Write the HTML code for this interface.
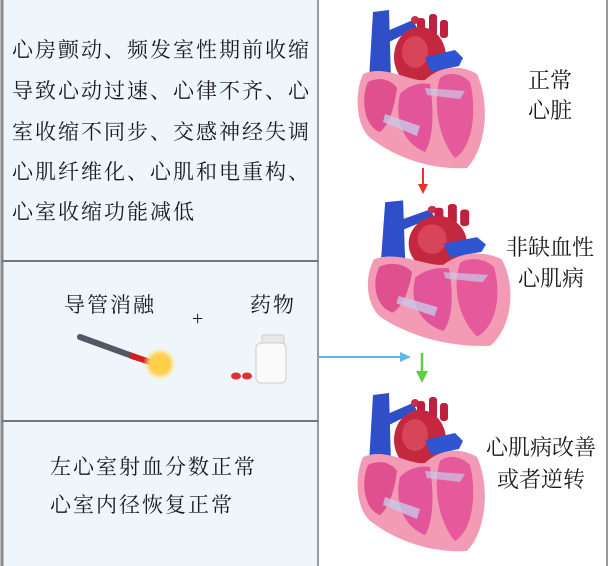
<!DOCTYPE html>
<html><head><meta charset="utf-8"><style>
body{margin:0;width:610px;height:566px;background:#fff;overflow:hidden;position:relative;font-family:"Liberation Sans","Noto Sans CJK SC",sans-serif;}
.t{position:absolute;font-size:21px;color:#1a1a1a;white-space:nowrap;line-height:1;letter-spacing:2px;font-family:"Liberation Serif","Noto Serif CJK SC",serif;}
.r{letter-spacing:0;font-size:22px;}
</style></head><body>
<svg width="610" height="566" style="position:absolute;left:0;top:0">
<defs>
<g id="h">
 <path d="M18 10 L34 8 L36 78 L14 78 Z" fill="#2f4fc8"/>
 <path d="M30 30 L58 18 L62 26 L34 40 Z" fill="#2f4fc8"/>
 <circle cx="60" cy="18" r="4" fill="#c8304a"/>
 <rect x="62" y="16" width="8" height="20" rx="3" fill="#c02040"/>
 <rect x="74" y="12" width="8" height="22" rx="3" fill="#c02040"/>
 <rect x="85" y="18" width="8" height="18" rx="3" fill="#c02040"/>
 <ellipse cx="65" cy="55" rx="26" ry="30" fill="#c4283f"/>
 <ellipse cx="60" cy="50" rx="13" ry="16" fill="#d8455a"/>
 <path d="M70 55 L100 48 L108 56 L104 64 L76 70 Z" fill="#2f56d0"/>
 <path d="M8 72 C-2 95 2 128 18 138 C45 158 80 168 112 166 C132 145 135 100 122 72 C105 62 85 64 70 78 C55 80 30 62 8 72 Z" fill="#f39bb4"/>
 <path d="M13 80 C6 95 8 124 25 130 C35 122 40 102 42 86 C35 76 22 75 13 80 Z" fill="#e0508f"/>
 <path d="M45 92 C40 112 45 140 70 150 C80 134 78 102 75 82 C65 80 52 84 45 92 Z" fill="#e2559a"/>
 <path d="M85 76 C78 98 82 135 100 156 C118 145 122 108 115 80 C105 70 92 70 85 76 Z" fill="#e65a9c"/>
 <path d="M30 112 L65 124 L62 134 L28 120 Z" fill="#c9c8e8" opacity=".8"/>
 <path d="M70 86 L110 89 L105 97 L72 93 Z" fill="#c9c8e8" opacity=".7"/>
</g>
</defs>
<rect x="0" y="0" width="319" height="566" fill="#eef6fc"/>
<line x1="2" y1="0" x2="2" y2="566" stroke="#888" stroke-width="3"/>
<line x1="318" y1="0" x2="318" y2="566" stroke="#999" stroke-width="2"/>
<line x1="607" y1="0" x2="607" y2="566" stroke="#999" stroke-width="2"/>
<line x1="2" y1="261" x2="318" y2="261" stroke="#777" stroke-width="2"/>
<line x1="2" y1="421" x2="318" y2="421" stroke="#777" stroke-width="2"/>
<use href="#h" transform="translate(355,2)"/>
<use href="#h" transform="translate(365,193) scale(1.12,0.92)"/>
<use href="#h" transform="translate(355,385)"/>
<!-- arrows -->
<line x1="423" y1="168" x2="423" y2="188" stroke="#e83030" stroke-width="2"/>
<path d="M418 184 L423 194 L428 184 Z" fill="#e83030"/>
<line x1="422" y1="353" x2="422" y2="376" stroke="#5cd040" stroke-width="2.5"/>
<path d="M416 371 L422 383 L428 371 Z" fill="#5cd040"/>
<line x1="318" y1="357" x2="405" y2="357" stroke="#60b8e8" stroke-width="2"/>
<path d="M400 352 L411 357 L400 362 Z" fill="#60b8e8"/>
<!-- catheter -->
<line x1="80" y1="337" x2="135" y2="357" stroke="#556" stroke-width="6" stroke-linecap="round"/>
<line x1="132" y1="356" x2="150" y2="362" stroke="#d02020" stroke-width="6" stroke-linecap="round"/>
<radialGradient id="g"><stop offset="0" stop-color="#ffd040"/><stop offset=".6" stop-color="#ffd050"/><stop offset="1" stop-color="#fff3c0" stop-opacity="0"/></radialGradient>
<circle cx="160" cy="364" r="17" fill="url(#g)"/>
<!-- pills & bottle -->
<ellipse cx="236" cy="376" rx="5" ry="3.5" fill="#e03030"/>
<ellipse cx="247" cy="376" rx="5" ry="3.5" fill="#e03030"/>
<rect x="262" y="335" width="22" height="10" rx="2" fill="#e8e8e8" stroke="#ccc"/>
<rect x="256" y="343" width="30" height="40" rx="5" fill="#fafafa" stroke="#ccc"/>
</svg>
<div class="t" style="left:12px;top:40px">心房颤动、频发室性期前收缩</div>
<div class="t" style="left:12px;top:81px">导致心动过速、心律不齐、心</div>
<div class="t" style="left:12px;top:122px">室收缩不同步、交感神经失调</div>
<div class="t" style="left:12px;top:162px">心肌纤维化、心肌和电重构、</div>
<div class="t" style="left:12px;top:202px">心室收缩功能减低</div>
<div class="t" style="left:64px;top:295px">导管消融</div>
<div class="t" style="left:250px;top:295px">药物</div>
<div class="t" style="left:192px;top:309px;font-size:20px">+</div>
<div class="t" style="left:50px;top:457px">左心室射血分数正常</div>
<div class="t" style="left:50px;top:495px">心室内径恢复正常</div>
<div class="t r" style="left:528px;top:70px">正常</div>
<div class="t r" style="left:528px;top:100px">心脏</div>
<div class="t r" style="left:506px;top:237px">非缺血性</div>
<div class="t r" style="left:518px;top:268px">心肌病</div>
<div class="t r" style="left:486px;top:437px">心肌病改善</div>
<div class="t r" style="left:497px;top:469px">或者逆转</div>
</body></html>
